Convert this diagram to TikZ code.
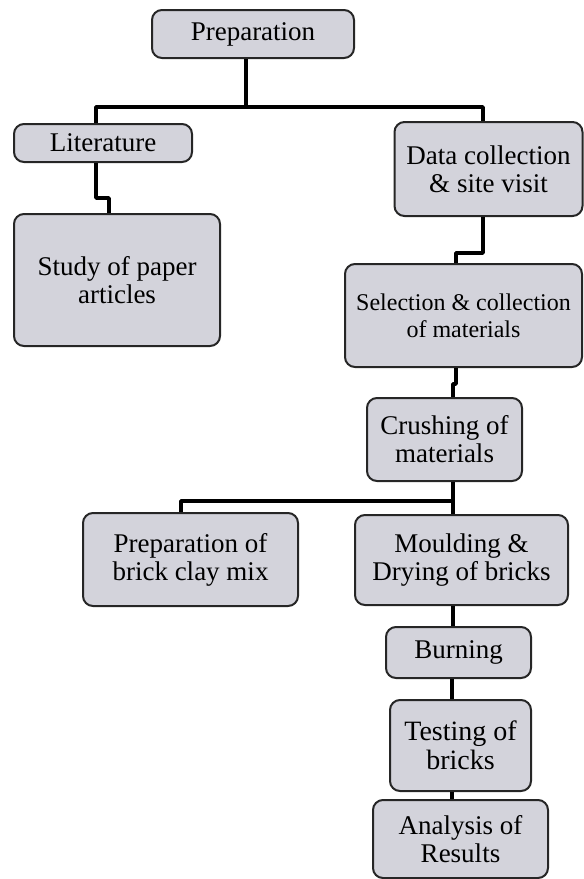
\documentclass[tikz,border=0pt]{standalone}
\usepackage{fontspec}
\setmainfont{Liberation Serif}
\definecolor{boxfill}{HTML}{D3D3DB}
\begin{document}
\begin{tikzpicture}[x=0.5pt, y=-0.5pt, line join=round,
    stage/.style={draw=black!85, line width=1pt, rounded corners=5pt, fill=boxfill,
      align=center, inner sep=2pt, font=\fontsize{13.5}{14}\selectfont},
    link/.style={line width=1.8pt}]
    \useasboundingbox (0,0) rectangle (584,879);
    % stages
    \node[stage, minimum width=101pt, minimum height=24pt] (prep) at (253,34) {Preparation};
    \node[stage, minimum width=89pt, minimum height=19pt] (lit) at (103,143) {Literature};
    \node[stage, minimum width=103pt, minimum height=66pt] (study) at (117,280) {Study of paper\\articles};
    \node[stage, minimum width=94pt, minimum height=47pt] (data) at (488.5,169) {Data collection\\\& site visit};
    \node[stage, minimum width=118.5pt, minimum height=51.5pt, font=\fontsize{12}{13.5}\selectfont] (sel) at (463.5,315.5) {Selection \& collection\\of materials};
    \node[stage, minimum width=77.5pt, minimum height=41.5pt] (crush) at (444.5,439.5) {Crushing of\\materials};
    \node[stage, minimum width=107.5pt, minimum height=46.5pt] (clay) at (190.5,559.5) {Preparation of\\brick clay mix};
    \node[stage, minimum width=106.5pt, minimum height=45pt] (mould) at (461.5,560) {Moulding \&\\Drying of bricks};
    \node[stage, minimum width=72.5pt, minimum height=25.5pt] (burn) at (458.5,652.5) {Burning};
    \node[stage, minimum width=70.5pt, minimum height=45.5pt, font=\fontsize{14}{14.5}\selectfont] (test) at (460.5,745.5) {Testing of\\bricks};
    \node[stage, minimum width=87.5pt, minimum height=39pt] (anal) at (460.5,839) {Analysis of\\Results};
    % links
    \draw[link] ([xshift=-3.5pt]prep.south) -- ++(0,50);
    \draw[link] ([xshift=-3.5pt]lit.north) -- ++(0,-16) -| ([xshift=-2.75pt]data.north);
    \draw[link] ([xshift=-3.5pt]lit.south) -- ++(0,35) -| ([xshift=-4pt]study.north);
    \draw[link] ([xshift=-2.75pt]data.south) -- ++(0,36) -| ([xshift=-3.75pt]sel.north);
    \draw[link] ([xshift=-3.75pt]sel.south) -- ++(0,16) -| ([xshift=4.25pt]crush.north);
    \draw[link] ([xshift=4.25pt]crush.south) -- ++(0,19) -| ([xshift=-4.75pt]clay.north);
    \draw[link] ([xshift=4.25pt]crush.south) -- ([xshift=-4.25pt]mould.north);
    \draw[link] ([xshift=-4.25pt]mould.south) -- ([xshift=-2.75pt]burn.north);
    \draw[link] ([xshift=-3.25pt]burn.south) -- ([xshift=-4.25pt]test.north);
    \draw[link] ([xshift=-4.25pt]test.south) -- ([xshift=-4.25pt]anal.north);
\end{tikzpicture}
\end{document}
